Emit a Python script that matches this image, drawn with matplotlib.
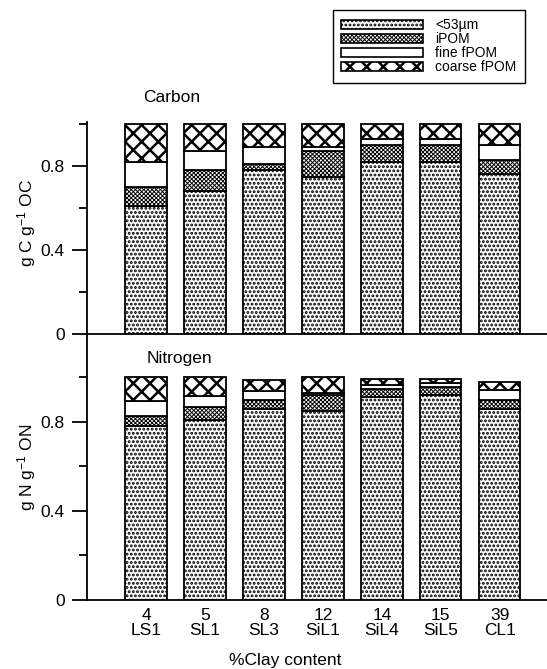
import matplotlib
matplotlib.use("Agg")
import matplotlib.pyplot as plt
from matplotlib.patches import Patch
from matplotlib.ticker import FixedLocator
import numpy as np

plt.rcParams['font.family'] = ['Liberation Sans', 'DejaVu Sans']
plt.rcParams['mathtext.fontset'] = 'custom'
plt.rcParams['mathtext.rm'] = 'Liberation Sans'
plt.rcParams['mathtext.default'] = 'regular'
plt.rcParams['hatch.linewidth'] = 1.4

# soils ordered by clay content
clay = ['4', '5', '8', '12', '14', '15', '39']
soils = ['LS1', 'SL1', 'SL3', 'SiL1', 'SiL4', 'SiL5', 'CL1']

fractions = ['<53µm', 'iPOM', 'fine fPOM', 'coarse fPOM']

# carbon distribution (g C per g OC)
c_silt = [0.61, 0.68, 0.78, 0.75, 0.82, 0.82, 0.76]
c_ipom = [0.09, 0.10, 0.03, 0.12, 0.08, 0.08, 0.07]
c_fine = [0.12, 0.09, 0.08, 0.02, 0.03, 0.03, 0.07]
c_coarse = [0.18, 0.13, 0.11, 0.11, 0.07, 0.07, 0.10]

# nitrogen distribution (g N per g ON)
n_silt = [0.78, 0.81, 0.86, 0.85, 0.91, 0.92, 0.86]
n_ipom = [0.045, 0.055, 0.04, 0.07, 0.04, 0.035, 0.04]
n_fine = [0.07, 0.05, 0.04, 0.01, 0.015, 0.02, 0.045]
n_coarse = [0.105, 0.085, 0.05, 0.07, 0.03, 0.02, 0.035]

hatches = ['....', 'xxxxxxxx', '', 'xx']
hatch_lw = [1.4, 0.7, 1.0, 1.8]

fig = plt.figure(figsize=(5.47, 6.69), dpi=100)
ax_c = fig.add_axes([87 / 547, 1 - 334 / 669, 1 - 87 / 547, 212 / 669])
ax_n = fig.add_axes([87 / 547, 1 - 600 / 669, 1 - 87 / 547, 266 / 669])

x = np.arange(len(soils))


def set_hlw(patch, lw):
    if hasattr(patch, 'set_hatch_linewidth'):
        patch.set_hatch_linewidth(lw)


def stack(ax, parts):
    bottom = np.zeros(len(x))
    for vals, h, lw in zip(parts, hatches, hatch_lw):
        bars = ax.bar(x, vals, width=0.7, bottom=bottom, color='white',
                      edgecolor='black', linewidth=1.3, hatch=h)
        for b in bars:
            set_hlw(b, lw)
        bottom += np.array(vals)


stack(ax_c, [c_silt, c_ipom, c_fine, c_coarse])
stack(ax_n, [n_silt, n_ipom, n_fine, n_coarse])

for ax, top in [(ax_c, 1.01), (ax_n, 1.195)]:
    ax.set_xlim(-1.0, 6.8)
    ax.set_ylim(0, top)
    ax.spines['top'].set_visible(False)
    ax.spines['right'].set_visible(False)
    ax.spines['left'].set_linewidth(1.3)
    ax.spines['bottom'].set_linewidth(1.3)
    ax.set_yticks([0, 0.4, 0.8])
    ax.set_yticklabels(['0', '0.4', '0.8'])
    ax.yaxis.set_minor_locator(FixedLocator([0.2, 0.6, 1.0]))
    ax.tick_params(axis='y', which='major', direction='out', length=11,
                   width=1.3, labelsize=12.5, pad=5)
    ax.tick_params(axis='y', which='minor', direction='out', length=6,
                   width=1.3)
    ax.patch.set_alpha(0)

ax_c.set_xticks([])
ax_n.set_xticks(x)
ax_n.set_xticklabels([f'{c}\n{s}' for c, s in zip(clay, soils)],
                     fontsize=12.5, linespacing=1.0)
ax_n.tick_params(axis='x', length=0, pad=6)

fig.text(143 / 547, 1 - 97 / 669, 'Carbon', fontsize=12.5, va='center')
fig.text(147 / 547, 1 - 359 / 669, 'Nitrogen', fontsize=12.5, va='center')
fig.text(27 / 547, 1 - 223 / 669, r'g C g$^{-1}$ OC', rotation=90,
         fontsize=12.5, ha='center', va='center')
fig.text(27 / 547, 1 - 467 / 669, r'g N g$^{-1}$ ON', rotation=90,
         fontsize=12.5, ha='center', va='center')
fig.text(285 / 547, 1 - 660 / 669, '%Clay content', fontsize=12.5,
         ha='center', va='center')

handles = [Patch(facecolor='white', edgecolor='black', linewidth=1.2, hatch=h)
           for h in hatches]
leg = fig.legend(handles, fractions, loc='upper left',
                 bbox_to_anchor=(333 / 547, 1 - 10 / 669),
                 bbox_transform=fig.transFigure, fontsize=10,
                 fancybox=False, edgecolor='black', framealpha=1,
                 handlelength=5.9, handleheight=0.6, labelspacing=0.0,
                 borderpad=0.6, handletextpad=0.85, borderaxespad=0)
leg.get_frame().set_linewidth(1.0)
for p, lw in zip(leg.legend_handles, hatch_lw):
    set_hlw(p, lw)

fig.savefig('out.png', dpi=100)
